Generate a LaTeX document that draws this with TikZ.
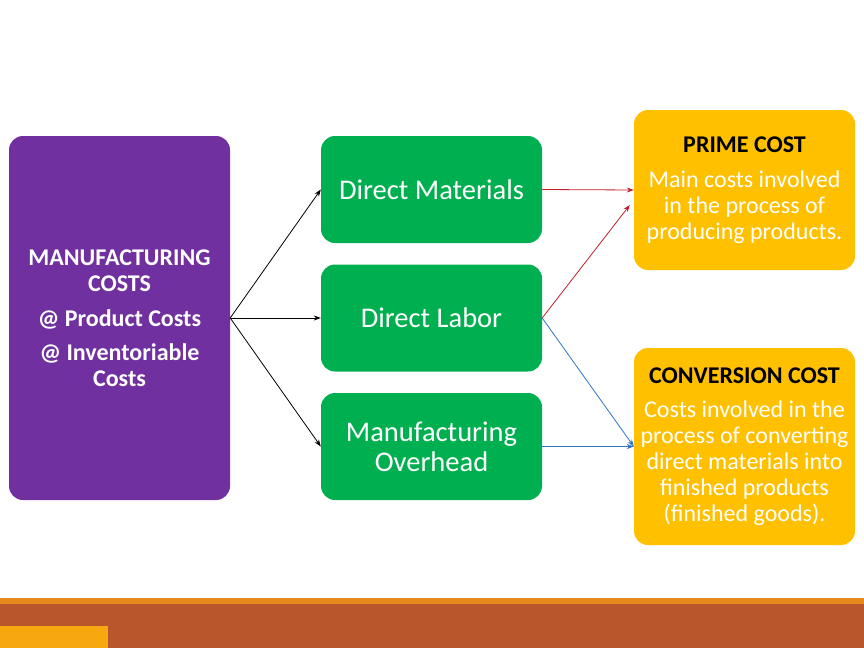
\documentclass[tikz,border=0pt]{standalone}
\usepackage{fontspec}
\setmainfont{Carlito}
\usetikzlibrary{arrows.meta,calc}
\definecolor{mfgpurple}{HTML}{7030A0}
\definecolor{elemgreen}{HTML}{00B050}
\definecolor{costyellow}{HTML}{FFC000}
\definecolor{barorange}{HTML}{E8891C}
\definecolor{barbrown}{HTML}{B9562B}
\definecolor{barlight}{HTML}{F7A70F}
\definecolor{primered}{HTML}{C0202A}
\definecolor{convblue}{HTML}{2E75C8}
\begin{document}
\begin{tikzpicture}[
        x = 1pt, y = -1pt,
        box/.style = {rounded corners = 14pt, inner sep = 0pt, align = center,
          minimum width = 221pt, text = white},
        mfgbox/.style = {box, fill = mfgpurple, minimum height = 364pt,
          font = \fontsize{24}{26}\selectfont\bfseries},
        elembox/.style = {box, fill = elemgreen, minimum height = 107pt,
          font = \fontsize{28.5}{30}\selectfont},
        costbox/.style = {box, fill = costyellow, font = \fontsize{24}{26}\selectfont},
        link/.style = {-{Stealth[length = 7pt, width = 5pt]}, line width = 0.8pt},
      ]
      \useasboundingbox (0,0) rectangle (864,648);
      % footer bar
      \fill[barorange] (0,598) rectangle (864,604);
      \fill[barbrown] (0,604) rectangle (864,648);
      \fill[barlight] (0,626) rectangle (108,648);
      % boxes
      \node[mfgbox] (mfg) at (119.5,318) {MANUFACTURING\\COSTS\\[9pt]@ Product Costs\\[8pt]@ Inventoriable\\Costs};
      \node[elembox] (dm) at (431.5,189.5) {Direct Materials};
      \node[elembox] (dl) at (431.5,318) {Direct Labor};
      \node[elembox] (mo) at (431.5,446.5) {Manufacturing\\Overhead};
      \node[costbox, minimum height = 160pt] (prime) at (744.5,190)
        {{\color{black}\bfseries PRIME COST}\\[9pt]Main costs involved\\in the process of\\producing products.};
      \node[costbox, minimum height = 197pt] (conv) at (744.5,446.5)
        {{\color{black}\bfseries CONVERSION COST}\\[8pt]Costs involved in the\\process of converting\\direct materials into\\finished products\\(finished goods).};
      \coordinate (primein) at ($(prime.west)+(-4,15)$);
      % arrows
      \foreach \n in {dm,dl,mo}
        \draw[link] (mfg.east) -- (\n.west);
      \draw[link, primered] (dm.east) -- (prime.west);
      \draw[link, primered] (dl.east) -- (primein);
      \draw[link, convblue] (dl.east) -- (conv.west);
      \draw[link, convblue] (mo.east) -- (conv.west);
\end{tikzpicture}
\end{document}
